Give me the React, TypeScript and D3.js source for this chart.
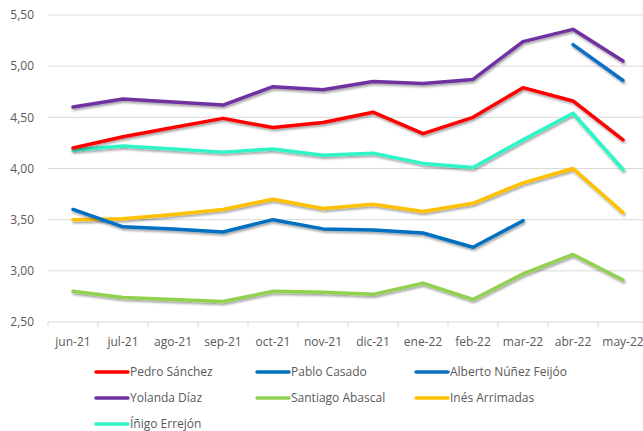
import React from "react";
import * as d3 from "d3";

const categories = ["jun-21","jul-21","ago-21","sep-21","oct-21","nov-21","dic-21","ene-22","feb-22","mar-22","abr-22","may-22"];
const yTicks = [2.5, 3.0, 3.5, 4.0, 4.5, 5.0, 5.5];

const pedroSanchez = [4.20, 4.31, 4.40, 4.49, 4.40, 4.45, 4.55, 4.34, 4.50, 4.79, 4.66, 4.28];
const pabloCasado = [3.60, 3.43, 3.41, 3.38, 3.50, 3.41, 3.40, 3.37, 3.23, 3.49, null, null];
const alberto = [null, null, null, null, null, null, null, null, null, null, 5.21, 4.86];
const yolanda = [4.60, 4.68, 4.65, 4.62, 4.80, 4.77, 4.85, 4.83, 4.87, 5.24, 5.36, 5.05];
const santiago = [2.80, 2.74, 2.72, 2.70, 2.80, 2.79, 2.77, 2.88, 2.72, 2.97, 3.16, 2.91];
const ines = [3.50, 3.51, 3.55, 3.60, 3.70, 3.61, 3.65, 3.58, 3.66, 3.86, 4.00, 3.57];
const inigo = [4.18, 4.22, 4.19, 4.16, 4.19, 4.13, 4.15, 4.05, 4.01, 4.28, 4.54, 3.99];

const seriesNames = ["Pedro Sánchez","Pablo Casado","Alberto Núñez Feijóo","Yolanda Díaz","Santiago Abascal","Inés Arrimadas","Íñigo Errejón"];
const seriesValues = [pedroSanchez, pabloCasado, alberto, yolanda, santiago, ines, inigo];
const seriesColors = ["#FF0000","#0070C0","#0E6FC4","#7030A0","#92D050","#FFC000","#2EF5C6"];
// draw order (back to front)
const drawOrder = [4, 5, 1, 6, 0, 3, 2];

const FONT = "'Open Sans', sans-serif";

export default function App() {
  const W = 643, H = 431;
  const x = d3.scaleBand<string>().domain(categories).range([48, 648]).paddingInner(0).paddingOuter(0);
  const y = d3.scaleLinear().domain([2.5, 5.5]).range([322, 15]);
  const cx = (c: string) => (x(c) as number) + x.bandwidth() / 2;
  const line = d3.line<number | null>()
    .defined(d => d != null)
    .x((_, i) => cx(categories[i]))
    .y(d => y(d as number));

  const legendCols = [96, 257, 416];
  const legendRows = [372, 398, 424];

  return (
    <svg width={W} height={H} style={{ position: "absolute", left: 0, top: 0, background: "#fff" }}
      xmlns="http://www.w3.org/2000/svg">
      <defs>
        <filter id="sh" x="-10%" y="-10%" width="120%" height="130%">
          <feDropShadow dx="1" dy="2" stdDeviation="1.2" floodColor="#000" floodOpacity="0.35" />
        </filter>
      </defs>
      <rect x={0} y={0} width={W} height={H} fill="#fff" />
      {yTicks.map(t => (
        <g key={t}>
          <line x1={48} x2={W} y1={y(t)} y2={y(t)} stroke="#D9D9D9" strokeWidth={1} />
          <text x={34} y={y(t)} dy="0.35em" textAnchor="end" fontFamily={FONT} fontSize={12} fill="#595959">
            {t.toFixed(2).replace(".", ",")}
          </text>
        </g>
      ))}
      {categories.map((c) => (
        <g key={c}>
          <line x1={x(c) as number} x2={x(c) as number} y1={322} y2={327} stroke="#D9D9D9" />
          <text x={cx(c)} y={342} dy="0.35em" textAnchor="middle" fontFamily={FONT} fontSize={12} fill="#595959">{c}</text>
        </g>
      ))}
      {drawOrder.map(i => (
        <path key={seriesNames[i]} d={line(seriesValues[i]) || ""} fill="none" stroke={seriesColors[i]}
          strokeWidth={3.5} strokeLinejoin="round" strokeLinecap="round" filter="url(#sh)" />
      ))}
      {seriesNames.map((n, i) => {
        const lx = legendCols[i % 3];
        const ly = legendRows[Math.floor(i / 3)];
        return (
          <g key={n}>
            <line x1={lx} x2={lx + 32} y1={ly} y2={ly} stroke={seriesColors[i]} strokeWidth={3.5} strokeLinecap="round" />
            <text x={lx + 34} y={ly} dy="0.35em" fontFamily={FONT} fontSize={12} fill="#595959">{n}</text>
          </g>
        );
      })}
    </svg>
  );
}
